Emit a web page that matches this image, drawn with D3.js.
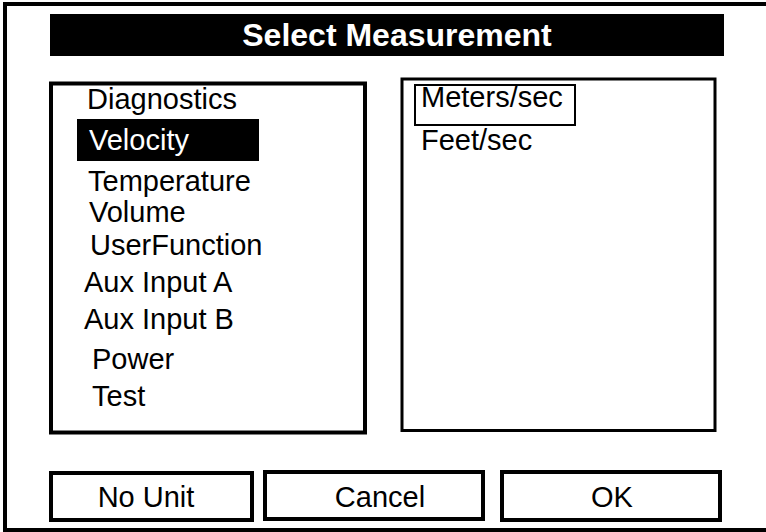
<!DOCTYPE html>
<html>
<head>
<meta charset="utf-8">
<script src="https://cdn.jsdelivr.net/npm/d3@7"></script>
<style>
  html, body { margin: 0; padding: 0; background: #fff; }
  svg text { font-family: "Liberation Sans", Arial, Helvetica, sans-serif; fill: #000; }
</style>
</head>
<body>
<div id="screen"></div>
<script>
// screen content
var title = "Select Measurement";
var measurements = ["Diagnostics", "Velocity", "Temperature", "Volume", "UserFunction",
  "Aux Input A", "Aux Input B", "Power", "Test"];
var selectedMeasurement = "Velocity";
var units = ["Meters/sec", "Feet/sec"];
var selectedUnit = "Meters/sec";
var buttons = ["No Unit", "Cancel", "OK"];

// layout (screen is a bit uneven, so keep the per-row offsets here)
var W = 766, H = 532;
var rowBase = [109, 150, 191, 222, 255, 292, 329, 369, 406];
var rowIndent = [87, 89, 88, 89, 90, 84, 84, 92, 92];
var buttonBoxes = [[51, 473, 252, 520], [265, 472, 483, 519], [502, 472, 720, 520]];
var buttonText = [146, 380, 612];

var svg = d3.select("#screen")
  .append("svg")
  .attr("width", W)
  .attr("height", H);

// outer frame (no right edge visible)
svg.append("path")
  .attr("d", "M" + W + ",4 H5 V530 H" + W)
  .attr("fill", "none")
  .attr("stroke", "#000")
  .attr("stroke-width", 4);

// title bar
svg.append("rect")
  .attr("x", 50).attr("y", 14)
  .attr("width", 674).attr("height", 42)
  .attr("fill", "#000");
svg.append("text")
  .attr("x", 397).attr("y", 46)
  .attr("text-anchor", "middle")
  .style("font-size", "32px")
  .style("font-weight", "bold")
  .style("fill", "#fff")
  .text(title);

// measurement list
var y = d3.scaleOrdinal().domain(measurements).range(rowBase);
var xi = d3.scaleOrdinal().domain(measurements).range(rowIndent);

svg.append("rect")
  .attr("x", 51).attr("y", 83.5)
  .attr("width", 314).attr("height", 349)
  .attr("fill", "none")
  .attr("stroke", "#000")
  .attr("stroke-width", 4);

svg.append("rect")
  .attr("x", 77)
  .attr("y", y(selectedMeasurement) - 31)
  .attr("width", 182).attr("height", 42)
  .attr("fill", "#000");

svg.append("g")
  .selectAll("text")
  .data(measurements)
  .enter()
  .append("text")
  .attr("x", function (d) { return xi(d); })
  .attr("y", function (d) { return y(d); })
  .style("font-size", "29px")
  .style("fill", function (d) { return d == selectedMeasurement ? "#fff" : "#000"; })
  .text(function (d) { return d; });

// unit list
var yu = d3.scalePoint().domain(units).range([107, 150]);

svg.append("rect")
  .attr("x", 402).attr("y", 79)
  .attr("width", 313).attr("height", 351.5)
  .attr("fill", "none")
  .attr("stroke", "#000")
  .attr("stroke-width", 3);

svg.append("rect")
  .attr("x", 415).attr("y", yu(selectedUnit) - 22)
  .attr("width", 160).attr("height", 40)
  .attr("fill", "none")
  .attr("stroke", "#000")
  .attr("stroke-width", 2);

svg.append("g")
  .selectAll("text")
  .data(units)
  .enter()
  .append("text")
  .attr("x", 421)
  .attr("y", function (d) { return yu(d); })
  .style("font-size", "29px")
  .text(function (d) { return d; });

// buttons
var btn = svg.append("g")
  .selectAll("g")
  .data(buttons)
  .enter()
  .append("g");

btn.append("rect")
  .attr("x", function (d, i) { return buttonBoxes[i][0]; })
  .attr("y", function (d, i) { return buttonBoxes[i][1]; })
  .attr("width", function (d, i) { return buttonBoxes[i][2] - buttonBoxes[i][0]; })
  .attr("height", function (d, i) { return buttonBoxes[i][3] - buttonBoxes[i][1]; })
  .attr("fill", "none")
  .attr("stroke", "#000")
  .attr("stroke-width", 4);

btn.append("text")
  .attr("x", function (d, i) { return buttonText[i]; })
  .attr("y", 507)
  .attr("text-anchor", "middle")
  .style("font-size", "29px")
  .text(function (d) { return d; });
</script>
</body>
</html>
